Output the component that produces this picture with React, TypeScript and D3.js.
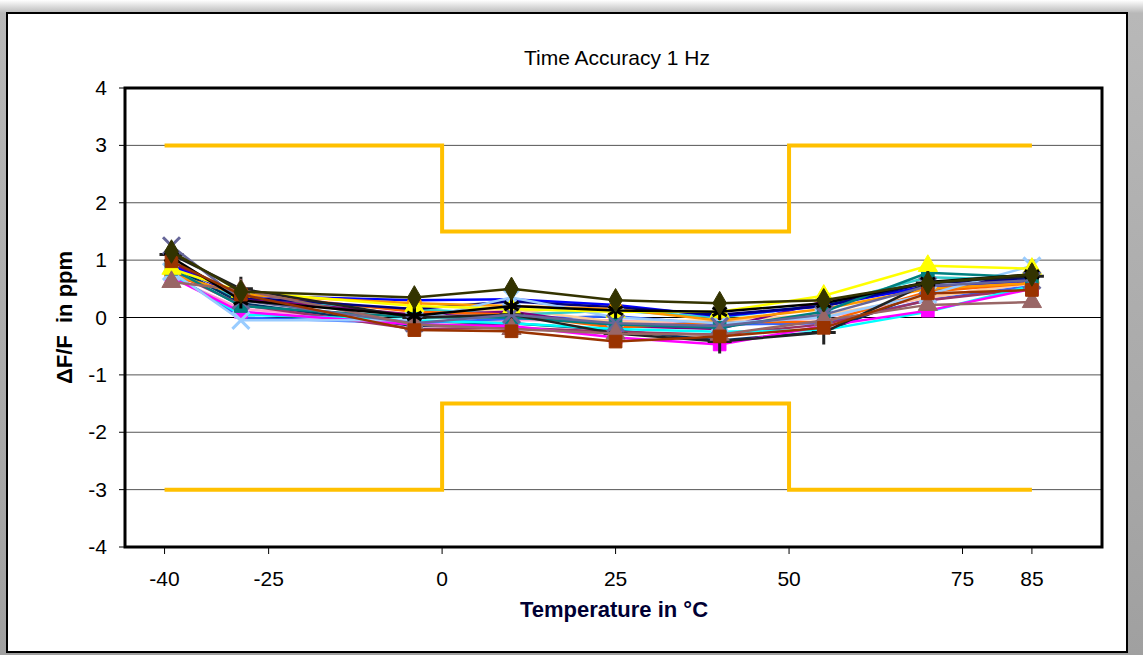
import React, { useEffect, useRef } from 'react'
import * as d3 from 'd3'

// temperatures where every unit was measured
const temps = [-39, -29, -4, 10, 25, 40, 55, 70, 85]
const xTicks = [-40, -25, 0, 25, 50, 75, 85]
const yTicks = [-4, -3, -2, -1, 0, 1, 2, 3, 4]

// spec limits (upper / lower), step at 0 and 50 degC
const limitTemps = [-40, 0, 0, 50, 50, 85]
const upperLimit = [3, 3, 1.5, 1.5, 3, 3]
const lowerLimit = [-3, -3, -1.5, -1.5, -3, -3]

// one entry per sample, [color, marker]
const seriesStyle: [string, string][] = [
  ['#FF99CC', 'none'],
  ['#3366FF', 'none'],
  ['#FFCC99', 'none'],
  ['#33CCCC', 'none'],
  ['#800080', 'none'],
  ['#003366', 'none'],
  ['#993366', 'none'],
  ['#FF6600', 'none'],
  ['#00FFFF', 'none'],
  ['#FF00FF', 'square'],
  ['#0000FF', 'none'],
  ['#000080', 'none'],
  ['#FF9900', 'circle'],
  ['#99CCFF', 'x'],
  ['#008080', 'square'],
  ['#FFFF00', 'triangle'],
  ['#222222', 'plus'],
  ['#666699', 'x'],
  ['#996666', 'triangle'],
  ['#000000', 'star'],
  ['#993300', 'square'],
  ['#333300', 'diamond'],
]

const s01 = [0.7, 0.15, -0.08, -0.05, -0.05, -0.15, 0.0, 0.35, 0.6]
const s02 = [0.78, 0.0, -0.1, -0.02, 0.02, -0.12, -0.1, 0.3, 0.55]
const s03 = [0.8, 0.35, 0.05, 0.15, -0.08, -0.05, 0.05, 0.35, 0.6]
const s04 = [0.85, 0.3, 0.15, 0.05, 0.12, 0.0, 0.22, 0.7, 0.65]
const s05 = [0.95, 0.33, 0.05, 0.1, -0.15, -0.2, 0.28, 0.5, 0.7]
const s06 = [0.9, 0.25, -0.15, -0.1, -0.22, -0.4, -0.25, 0.45, 0.65]
const s07 = [0.8, 0.22, -0.2, -0.18, -0.25, -0.3, -0.12, 0.3, 0.5]
const s08 = [0.72, 0.42, 0.1, 0.05, -0.18, -0.08, -0.08, 0.45, 0.6]
const s09 = [0.75, 0.05, -0.05, -0.1, -0.2, -0.25, -0.22, 0.1, 0.55]
const s10 = [0.7, 0.1, -0.12, -0.15, -0.35, -0.47, -0.15, 0.12, 0.5]
const s11 = [0.9, 0.38, 0.3, 0.32, 0.22, 0.02, 0.2, 0.55, 0.62]
const s12 = [1.0, 0.35, 0.15, 0.28, 0.18, 0.05, 0.2, 0.6, 0.68]
const s13 = [0.75, 0.4, 0.25, 0.2, 0.15, -0.05, 0.15, 0.5, 0.6]
const s14 = [0.8, -0.05, -0.05, 0.35, 0.0, -0.1, 0.0, 0.4, 0.9]
const s15 = [0.85, 0.2, 0.0, 0.0, -0.12, -0.18, 0.1, 0.78, 0.7]
const s16 = [0.85, 0.45, 0.2, 0.15, 0.1, 0.1, 0.38, 0.9, 0.85]
const s17 = [1.1, 0.5, 0.0, 0.05, -0.28, -0.42, -0.26, 0.6, 0.72]
const s18 = [1.25, 0.3, -0.1, 0.05, -0.1, -0.15, 0.05, 0.55, 0.65]
const s19 = [0.62, 0.48, -0.12, -0.2, -0.28, -0.3, -0.05, 0.22, 0.27]
const s20 = [1.05, 0.3, 0.03, 0.2, 0.12, 0.1, 0.25, 0.62, 0.75]
const s21 = [0.98, 0.4, -0.22, -0.24, -0.42, -0.33, -0.18, 0.42, 0.48]
const s22 = [1.15, 0.45, 0.35, 0.5, 0.3, 0.25, 0.3, 0.6, 0.75]

const samples = [s01, s02, s03, s04, s05, s06, s07, s08, s09, s10, s11,
  s12, s13, s14, s15, s16, s17, s18, s19, s20, s21, s22]

const W = 1143
const H = 655

const App = () => {
  const ref = useRef<SVGSVGElement>(null)

  useEffect(() => {
    const svg = d3.select(ref.current)
    svg.selectAll('*').remove()

    const left = 125, right = 1102, top = 88, bottom = 547
    const x = d3.scaleLinear().domain([-45.7, 95.1]).range([left, right])
    const y = d3.scaleLinear().domain([-4, 4]).range([bottom, top])

    // page background + chart frame
    const grad = svg.append('defs').append('linearGradient')
      .attr('id', 'pg').attr('x1', 0).attr('y1', 0).attr('x2', 0).attr('y2', 1)
    grad.append('stop').attr('offset', 0).attr('stop-color', '#ffffff')
    grad.append('stop').attr('offset', 0.02).attr('stop-color', '#b8b8b8')
    grad.append('stop').attr('offset', 1).attr('stop-color', '#a0a0a0')
    svg.append('rect').attr('width', W).attr('height', H).attr('fill', 'url(#pg)')
    svg.append('rect')
      .attr('x', 7).attr('y', 13).attr('width', 1120).attr('height', 639)
      .attr('fill', '#fff').attr('stroke', '#000').attr('stroke-width', 2)

    const font = '"Liberation Sans", Arial, sans-serif'

    svg.append('text')
      .attr('x', 617).attr('y', 65).attr('text-anchor', 'middle')
      .style('font-family', font).style('font-size', '21px')
      .text('Time Accuracy 1 Hz')

    // grid lines
    svg.append('g').selectAll('line')
      .data(yTicks.filter(d => d > -4 && d < 4))
      .enter().append('line')
        .attr('x1', left).attr('x2', right)
        .attr('y1', d => y(d)).attr('y2', d => y(d))
        .style('stroke', d => d === 0 ? '#000' : '#555')
        .style('stroke-width', 1)

    // y axis ticks + labels
    const yg = svg.append('g')
    yg.selectAll('line').data(yTicks).enter().append('line')
      .attr('x1', left - 6).attr('x2', left)
      .attr('y1', d => y(d)).attr('y2', d => y(d))
      .style('stroke', '#000')
    yg.selectAll('text').data(yTicks).enter().append('text')
      .attr('x', 107).attr('y', d => y(d) + 7).attr('text-anchor', 'end')
      .style('font-family', font).style('font-size', '21px')
      .text(d => d)

    // x axis ticks + labels
    const xg = svg.append('g')
    xg.selectAll('line').data(xTicks).enter().append('line')
      .attr('x1', d => x(d)).attr('x2', d => x(d))
      .attr('y1', bottom).attr('y2', bottom + 7)
      .style('stroke', '#000')
    xg.selectAll('text').data(xTicks).enter().append('text')
      .attr('x', d => x(d)).attr('y', 586).attr('text-anchor', 'middle')
      .style('font-family', font).style('font-size', '21px')
      .text(d => d)

    svg.append('text')
      .attr('x', 614).attr('y', 617).attr('text-anchor', 'middle')
      .style('font-family', font).style('font-size', '22px').style('font-weight', 'bold')
      .style('fill', '#000033')
      .text('Temperature in °C')

    svg.append('text')
      .attr('transform', `translate(72, ${y(0)}) rotate(-90)`)
      .attr('text-anchor', 'middle')
      .style('font-family', font).style('font-size', '22px').style('font-weight', 'bold')
      .style('white-space', 'pre')
      .text('ΔF/F  in ppm')

    // limit lines
    const limitLine = d3.line<number>()
      .x((d, i) => x(limitTemps[i]))
      .y(d => y(d))
    ;[upperLimit, lowerLimit].forEach(lim => {
      svg.append('path')
        .attr('d', limitLine(lim))
        .style('fill', 'none').style('stroke', '#FFC000').style('stroke-width', 4)
    })

    // measured samples
    const line = d3.line<number>()
      .x((d, i) => x(temps[i]))
      .y(d => y(d))
    const symbolOf: Record<string, d3.SymbolType> = {
      square: d3.symbolSquare,
      diamond: d3.symbolDiamond,
      triangle: d3.symbolTriangle,
      circle: d3.symbolCircle,
      x: d3.symbolX,
      plus: d3.symbolPlus,
      star: d3.symbolAsterisk,
    }
    const stroked = ['x', 'plus', 'star']

    samples.forEach((vals, k) => {
      const [color, marker] = seriesStyle[k]
      const g = svg.append('g')
      g.append('path')
        .attr('d', line(vals))
        .style('fill', 'none').style('stroke', color).style('stroke-width', 2.5)
      if (marker === 'none') return
      const isStroke = stroked.includes(marker)
      const sym = d3.symbol().type(symbolOf[marker]).size(isStroke ? 190 : 160)
      g.selectAll('path.m').data(vals).enter().append('path')
        .attr('class', 'm')
        .attr('transform', (d, i) => `translate(${x(temps[i])}, ${y(d)})`)
        .attr('d', sym())
        .style('fill', isStroke ? 'none' : color)
        .style('stroke', color)
        .style('stroke-width', isStroke ? 3 : 1)
    })

    // plot area border on top
    svg.append('rect')
      .attr('x', left).attr('y', top)
      .attr('width', right - left).attr('height', bottom - top)
      .style('fill', 'none').style('stroke', '#000').style('stroke-width', 3)
  }, [])

  return (
    <svg ref={ref} width={W} height={H}
      style={{ position: 'absolute', left: 0, top: 0, display: 'block' }} />
  )
}

export default App
